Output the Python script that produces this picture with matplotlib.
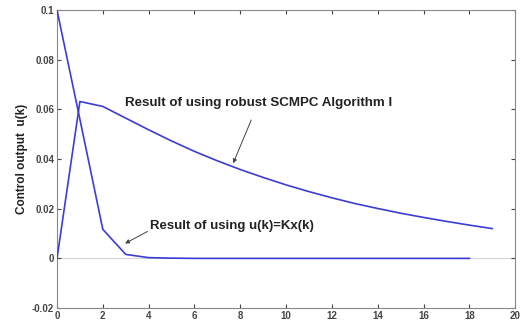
import numpy as np
import matplotlib
matplotlib.use("Agg")
import matplotlib.pyplot as plt

plt.rcParams["font.family"] = ["Liberation Sans", "DejaVu Sans"]

# robust SCMPC Algorithm I, k = 0..19
k_scmpc = list(range(20))
u_scmpc = [0.0, 0.0632, 0.0612, 0.0565, 0.0518, 0.0473, 0.0431, 0.0393, 0.0358, 0.0326,
           0.0296, 0.0269, 0.0244, 0.0221, 0.0201, 0.0182, 0.0165, 0.0149, 0.0134, 0.0120]
# u(k) = Kx(k), k = 0..18
k_kx = list(range(19))
u_kx = [0.1, 0.056, 0.0117, 0.0016, 0.0003, 0.0001, 0.0, 0.0, 0.0, 0.0,
        0.0, 0.0, 0.0, 0.0, 0.0, 0.0, 0.0, 0.0, 0.0]

xticks = [0, 2, 4, 6, 8, 10, 12, 14, 16, 18, 20]
yticks = [-0.02, 0, 0.02, 0.04, 0.06, 0.08, 0.1]
ytick_labels = ["-0.02", "0", "0.02", "0.04", "0.06", "0.08", "0.1"]

LINE = "#3c3cd6"

fig = plt.figure(figsize=(5.23, 3.27), dpi=100)
ax = fig.add_axes([0.109, 0.058, 0.876, 0.911])

ax.axhline(0, color="#d4d4dc", lw=0.8, zorder=1)
ax.plot(k_scmpc, u_scmpc, color=LINE, lw=1.2, zorder=3)
ax.plot(k_kx, u_kx, color=LINE, lw=1.2, zorder=3)

ax.set_xlim(0, 20)
ax.set_ylim(-0.02, 0.1)
ax.set_xticks(xticks)
ax.set_yticks(yticks)
ax.set_yticklabels(ytick_labels)
ax.tick_params(direction="in", length=3, labelsize=7, colors="#444444",
               top=True, right=True, pad=2)
for lab in ax.get_xticklabels() + ax.get_yticklabels():
    lab.set_fontweight("bold")
for s in ax.spines.values():
    s.set_edgecolor("#888888")
    s.set_linewidth(0.8)

ax.set_ylabel("Control output  u(k)", fontsize=8.5, fontweight="bold",
              color="#222222", labelpad=3)

ax.annotate("Result of using robust SCMPC Algorithm I", xy=(7.69, 0.0383),
            xytext=(8.78, 0.0624), ha="center", va="center", fontsize=9.6,
            fontweight="bold", color="#222222",
            arrowprops=dict(arrowstyle="-|>", color="#444444", lw=0.7,
                            mutation_scale=6, shrinkA=6, shrinkB=0))
ax.annotate("Result of using u(k)=Kx(k)", xy=(2.97, 0.006),
            xytext=(7.65, 0.0129), ha="center", va="center", fontsize=9.5,
            fontweight="bold", color="#222222",
            arrowprops=dict(arrowstyle="-|>", color="#444444", lw=0.7,
                            mutation_scale=6, shrinkA=0, shrinkB=0,
                            relpos=(0.0, 0.2)))

fig.savefig("out.png", dpi=100)
